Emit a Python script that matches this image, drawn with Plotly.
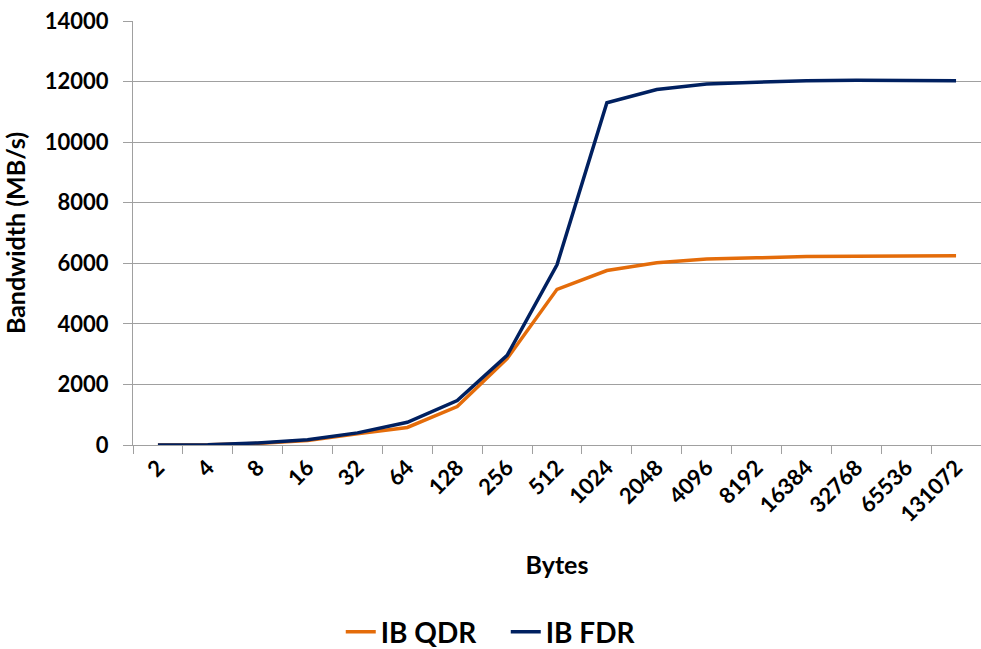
import plotly.graph_objects as go

categories = ["2", "4", "8", "16", "32", "64", "128", "256", "512", "1024",
              "2048", "4096", "8192", "16384", "32768", "65536", "131072"]
qdr = [0, 5, 50, 150, 370, 580, 1270, 2850, 5140, 5760,
       6020, 6140, 6180, 6220, 6230, 6230, 6250]
fdr = [0, 10, 70, 170, 400, 750, 1470, 2960, 5950, 11300,
       11740, 11920, 11980, 12030, 12040, 12040, 12030]

FONT = "Lato"

fig = go.Figure()
fig.add_trace(go.Scatter(x=categories, y=qdr, mode="lines", name="IB QDR",
                         line=dict(color="#E46C0A", width=3.5)))
fig.add_trace(go.Scatter(x=categories, y=fdr, mode="lines", name="IB FDR",
                         line=dict(color="#002060", width=3.5)))

fig.update_layout(
    width=981, height=649,
    paper_bgcolor="white", plot_bgcolor="white",
    margin=dict(l=133, r=0, t=21, b=204, autoexpand=False),
    font=dict(family=FONT, size=22, color="black"),
    showlegend=True,
    legend=dict(orientation="h", xref="paper", yref="paper",
                x=0.245, xanchor="left", y=-0.441, yanchor="middle",
                font=dict(family=FONT, size=28, color="black", weight="bold"),
                entrywidth=120, entrywidthmode="pixels",
                tracegroupgap=0),
    xaxis=dict(
        type="category",
        automargin=False,
        showgrid=False,
        showline=True, linecolor="#a0a0a0", linewidth=1,
        ticks="outside", ticklen=8, tickcolor="#a0a0a0", tickson="boundaries",
        tickangle=-45,
        tickfont=dict(family=FONT, size=22, weight="bold"),
        title=dict(text="Bytes", font=dict(family=FONT, size=25, weight="bold"), standoff=30),
        range=[-0.5, 16.5],
    ),
    yaxis=dict(
        automargin=False,
        range=[0, 14000], dtick=2000, tickformat="d",
        showgrid=True, gridcolor="#a0a0a0", gridwidth=1,
        showline=True, linecolor="#a0a0a0", linewidth=1,
        ticks="outside", ticklen=9, tickcolor="#a0a0a0",
        zeroline=False,
        tickfont=dict(family=FONT, size=22, weight="bold"),
        title=dict(text="Bandwidth (MB/s)", font=dict(family=FONT, size=25, weight="bold"), standoff=14),
        ticklabelstandoff=10,
    ),
)

fig.write_html("out.html", config={"displayModeBar": False},
               post_script="document.body.style.margin='0px';")
